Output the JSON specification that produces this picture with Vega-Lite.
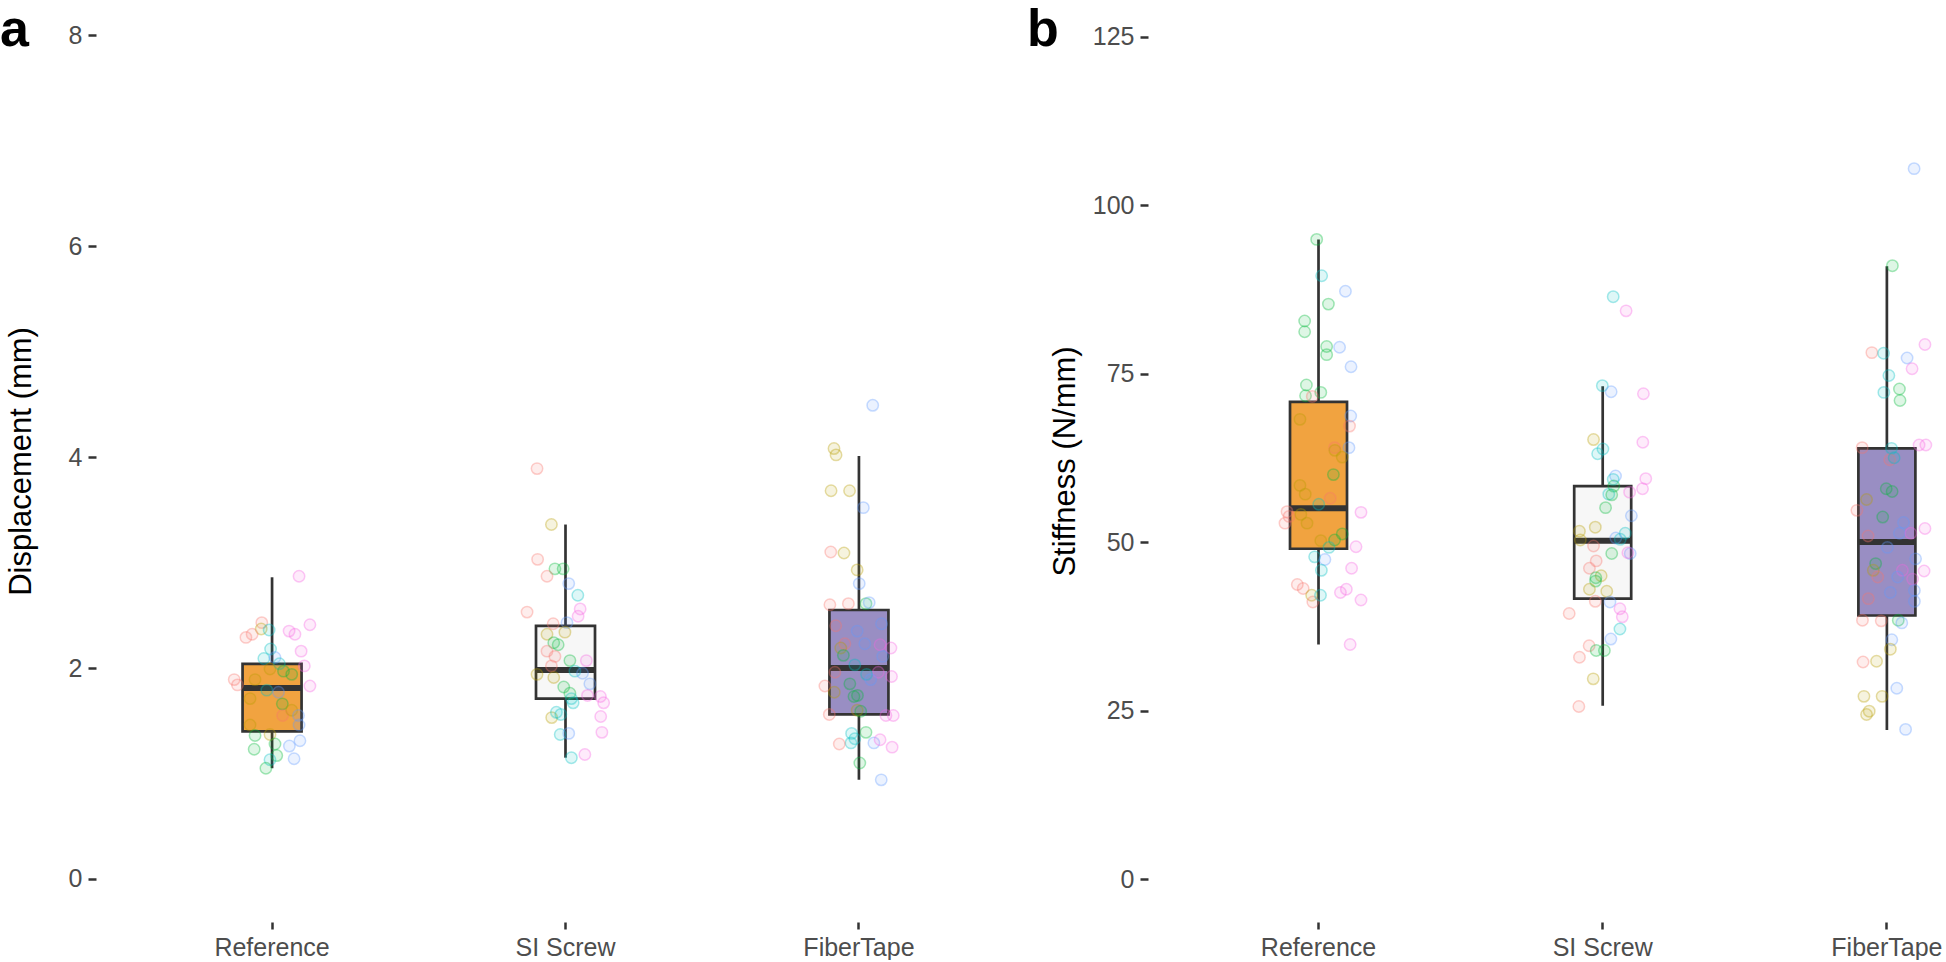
{
  "$schema": "https://vega.github.io/schema/vega-lite/v6.json",
  "autosize": {"type": "pad"},
  "padding": 0,
  "background": "white",
  "spacing": 113,
  "bounds": "flush",
  "config": {
    "view": {"stroke": null},
    "font": "Liberation Sans",
    "axis": {
      "grid": false, "domain": false,
      "tickColor": "#333333", "tickWidth": 2.5,
      "labelColor": "#4D4D4D", "labelFont": "Liberation Sans", "labelFontSize": 25,
      "titleFont": "Liberation Sans", "titleFontSize": 31, "titleColor": "#000000", "titleFontWeight": "normal"
    }
  },
  "datasets": {
    "dispBox": [
      {"group": "Reference", "lower": 1.05, "q1": 1.40, "median": 1.81, "q3": 2.04, "upper": 2.86},
      {"group": "SI Screw", "lower": 1.15, "q1": 1.71, "median": 1.98, "q3": 2.40, "upper": 3.36},
      {"group": "FiberTape", "lower": 0.94, "q1": 1.56, "median": 2.00, "q3": 2.55, "upper": 4.01}
    ],
    "stiffBox": [
      {"group": "Reference", "lower": 34.8, "q1": 49.0, "median": 55.0, "q3": 70.8, "upper": 94.9},
      {"group": "SI Screw", "lower": 25.7, "q1": 41.6, "median": 50.2, "q3": 58.3, "upper": 73.1},
      {"group": "FiberTape", "lower": 22.1, "q1": 39.1, "median": 50.0, "q3": 63.9, "upper": 90.9}
    ],
    "dispPts": [
      {"group":"Reference","specimen":"S6","value":2.87,"jitter":0.092},
      {"group":"Reference","specimen":"S1","value":2.43,"jitter":-0.035},
      {"group":"Reference","specimen":"S2","value":2.37,"jitter":-0.037},
      {"group":"Reference","specimen":"S4","value":2.36,"jitter":-0.01},
      {"group":"Reference","specimen":"S1","value":2.32,"jitter":-0.068},
      {"group":"Reference","specimen":"S1","value":2.29,"jitter":-0.089},
      {"group":"Reference","specimen":"S6","value":2.35,"jitter":0.058},
      {"group":"Reference","specimen":"S6","value":2.32,"jitter":0.078},
      {"group":"Reference","specimen":"S6","value":2.41,"jitter":0.129},
      {"group":"Reference","specimen":"S4","value":2.18,"jitter":-0.005},
      {"group":"Reference","specimen":"S4","value":2.09,"jitter":-0.028},
      {"group":"Reference","specimen":"S5","value":2.10,"jitter":0.01},
      {"group":"Reference","specimen":"S6","value":2.16,"jitter":0.099},
      {"group":"Reference","specimen":"S4","value":2.04,"jitter":0.025},
      {"group":"Reference","specimen":"S2","value":1.99,"jitter":-0.007},
      {"group":"Reference","specimen":"S3","value":1.97,"jitter":0.039},
      {"group":"Reference","specimen":"S3","value":1.94,"jitter":0.067},
      {"group":"Reference","specimen":"S6","value":2.02,"jitter":0.11},
      {"group":"Reference","specimen":"S1","value":1.89,"jitter":-0.129},
      {"group":"Reference","specimen":"S1","value":1.84,"jitter":-0.118},
      {"group":"Reference","specimen":"S2","value":1.89,"jitter":-0.058},
      {"group":"Reference","specimen":"S6","value":1.83,"jitter":0.129},
      {"group":"Reference","specimen":"S4","value":1.79,"jitter":-0.018},
      {"group":"Reference","specimen":"S5","value":1.77,"jitter":0.022},
      {"group":"Reference","specimen":"S2","value":1.71,"jitter":-0.075},
      {"group":"Reference","specimen":"S3","value":1.66,"jitter":0.035},
      {"group":"Reference","specimen":"S1","value":1.55,"jitter":0.036},
      {"group":"Reference","specimen":"S2","value":1.60,"jitter":0.067},
      {"group":"Reference","specimen":"S5","value":1.55,"jitter":0.09},
      {"group":"Reference","specimen":"S5","value":1.46,"jitter":0.092},
      {"group":"Reference","specimen":"S2","value":1.46,"jitter":-0.075},
      {"group":"Reference","specimen":"S3","value":1.36,"jitter":-0.058},
      {"group":"Reference","specimen":"S2","value":1.37,"jitter":-0.007},
      {"group":"Reference","specimen":"S3","value":1.28,"jitter":0.01},
      {"group":"Reference","specimen":"S5","value":1.26,"jitter":0.059},
      {"group":"Reference","specimen":"S5","value":1.31,"jitter":0.095},
      {"group":"Reference","specimen":"S3","value":1.23,"jitter":-0.061},
      {"group":"Reference","specimen":"S3","value":1.17,"jitter":0.016},
      {"group":"Reference","specimen":"S5","value":1.14,"jitter":0.075},
      {"group":"Reference","specimen":"S4","value":1.13,"jitter":-0.007},
      {"group":"Reference","specimen":"S3","value":1.05,"jitter":-0.021},
      {"group":"SI Screw","specimen":"S1","value":3.89,"jitter":-0.097},
      {"group":"SI Screw","specimen":"S2","value":3.36,"jitter":-0.048},
      {"group":"SI Screw","specimen":"S1","value":3.03,"jitter":-0.095},
      {"group":"SI Screw","specimen":"S3","value":2.94,"jitter":-0.036},
      {"group":"SI Screw","specimen":"S3","value":2.94,"jitter":-0.008},
      {"group":"SI Screw","specimen":"S1","value":2.87,"jitter":-0.063},
      {"group":"SI Screw","specimen":"S5","value":2.80,"jitter":0.011},
      {"group":"SI Screw","specimen":"S4","value":2.69,"jitter":0.042},
      {"group":"SI Screw","specimen":"S6","value":2.56,"jitter":0.05},
      {"group":"SI Screw","specimen":"S6","value":2.49,"jitter":0.043},
      {"group":"SI Screw","specimen":"S1","value":2.53,"jitter":-0.131},
      {"group":"SI Screw","specimen":"S1","value":2.42,"jitter":-0.042},
      {"group":"SI Screw","specimen":"S5","value":2.43,"jitter":0.005},
      {"group":"SI Screw","specimen":"S2","value":2.32,"jitter":-0.063},
      {"group":"SI Screw","specimen":"S2","value":2.34,"jitter":-0.002},
      {"group":"SI Screw","specimen":"S3","value":2.24,"jitter":-0.04},
      {"group":"SI Screw","specimen":"S3","value":2.22,"jitter":-0.025},
      {"group":"SI Screw","specimen":"S1","value":2.16,"jitter":-0.063},
      {"group":"SI Screw","specimen":"S1","value":2.11,"jitter":-0.036},
      {"group":"SI Screw","specimen":"S3","value":2.07,"jitter":0.015},
      {"group":"SI Screw","specimen":"S6","value":2.07,"jitter":0.071},
      {"group":"SI Screw","specimen":"S1","value":2.02,"jitter":-0.048},
      {"group":"SI Screw","specimen":"S2","value":1.94,"jitter":-0.097},
      {"group":"SI Screw","specimen":"S4","value":1.97,"jitter":0.032},
      {"group":"SI Screw","specimen":"S5","value":1.95,"jitter":0.058},
      {"group":"SI Screw","specimen":"S2","value":1.91,"jitter":-0.04},
      {"group":"SI Screw","specimen":"S5","value":1.85,"jitter":0.083},
      {"group":"SI Screw","specimen":"S3","value":1.82,"jitter":-0.006},
      {"group":"SI Screw","specimen":"S3","value":1.76,"jitter":0.015},
      {"group":"SI Screw","specimen":"S6","value":1.74,"jitter":0.075},
      {"group":"SI Screw","specimen":"S6","value":1.73,"jitter":0.119},
      {"group":"SI Screw","specimen":"S4","value":1.71,"jitter":0.02},
      {"group":"SI Screw","specimen":"S6","value":1.67,"jitter":0.13},
      {"group":"SI Screw","specimen":"S4","value":1.67,"jitter":0.026},
      {"group":"SI Screw","specimen":"S2","value":1.53,"jitter":-0.047},
      {"group":"SI Screw","specimen":"S4","value":1.58,"jitter":-0.031},
      {"group":"SI Screw","specimen":"S4","value":1.56,"jitter":-0.016},
      {"group":"SI Screw","specimen":"S6","value":1.54,"jitter":0.12},
      {"group":"SI Screw","specimen":"S4","value":1.37,"jitter":-0.018},
      {"group":"SI Screw","specimen":"S5","value":1.38,"jitter":0.011},
      {"group":"SI Screw","specimen":"S6","value":1.39,"jitter":0.124},
      {"group":"SI Screw","specimen":"S4","value":1.15,"jitter":0.02},
      {"group":"SI Screw","specimen":"S6","value":1.18,"jitter":0.066},
      {"group":"FiberTape","specimen":"S5","value":4.49,"jitter":0.047},
      {"group":"FiberTape","specimen":"S2","value":4.08,"jitter":-0.085},
      {"group":"FiberTape","specimen":"S2","value":4.02,"jitter":-0.078},
      {"group":"FiberTape","specimen":"S2","value":3.68,"jitter":-0.095},
      {"group":"FiberTape","specimen":"S2","value":3.68,"jitter":-0.032},
      {"group":"FiberTape","specimen":"S5","value":3.52,"jitter":0.015},
      {"group":"FiberTape","specimen":"S1","value":3.10,"jitter":-0.096},
      {"group":"FiberTape","specimen":"S2","value":3.09,"jitter":-0.051},
      {"group":"FiberTape","specimen":"S2","value":2.93,"jitter":-0.006},
      {"group":"FiberTape","specimen":"S5","value":2.80,"jitter":0.001},
      {"group":"FiberTape","specimen":"S1","value":2.60,"jitter":-0.099},
      {"group":"FiberTape","specimen":"S1","value":2.61,"jitter":-0.036},
      {"group":"FiberTape","specimen":"S3","value":2.61,"jitter":0.024},
      {"group":"FiberTape","specimen":"S5","value":2.62,"jitter":0.035},
      {"group":"FiberTape","specimen":"S1","value":2.40,"jitter":-0.079},
      {"group":"FiberTape","specimen":"S5","value":2.42,"jitter":0.077},
      {"group":"FiberTape","specimen":"S5","value":2.35,"jitter":-0.006},
      {"group":"FiberTape","specimen":"S1","value":2.23,"jitter":-0.048},
      {"group":"FiberTape","specimen":"S5","value":2.23,"jitter":0.02},
      {"group":"FiberTape","specimen":"S6","value":2.22,"jitter":0.072},
      {"group":"FiberTape","specimen":"S6","value":2.19,"jitter":0.109},
      {"group":"FiberTape","specimen":"S2","value":2.19,"jitter":-0.062},
      {"group":"FiberTape","specimen":"S3","value":2.12,"jitter":-0.053},
      {"group":"FiberTape","specimen":"S4","value":2.03,"jitter":-0.014},
      {"group":"FiberTape","specimen":"S5","value":2.11,"jitter":0.081},
      {"group":"FiberTape","specimen":"S1","value":1.96,"jitter":-0.082},
      {"group":"FiberTape","specimen":"S6","value":1.96,"jitter":0.066},
      {"group":"FiberTape","specimen":"S4","value":1.94,"jitter":0.026},
      {"group":"FiberTape","specimen":"S6","value":1.92,"jitter":0.111},
      {"group":"FiberTape","specimen":"S5","value":1.89,"jitter":0.04},
      {"group":"FiberTape","specimen":"S3","value":1.85,"jitter":-0.031},
      {"group":"FiberTape","specimen":"S1","value":1.83,"jitter":-0.116},
      {"group":"FiberTape","specimen":"S2","value":1.77,"jitter":-0.084},
      {"group":"FiberTape","specimen":"S3","value":1.73,"jitter":-0.017},
      {"group":"FiberTape","specimen":"S3","value":1.74,"jitter":-0.005},
      {"group":"FiberTape","specimen":"S2","value":1.60,"jitter":-0.006},
      {"group":"FiberTape","specimen":"S3","value":1.59,"jitter":0.006},
      {"group":"FiberTape","specimen":"S1","value":1.56,"jitter":-0.101},
      {"group":"FiberTape","specimen":"S6","value":1.55,"jitter":0.092},
      {"group":"FiberTape","specimen":"S6","value":1.55,"jitter":0.117},
      {"group":"FiberTape","specimen":"S4","value":1.38,"jitter":-0.025},
      {"group":"FiberTape","specimen":"S3","value":1.39,"jitter":0.024},
      {"group":"FiberTape","specimen":"S4","value":1.33,"jitter":-0.014},
      {"group":"FiberTape","specimen":"S4","value":1.29,"jitter":-0.027},
      {"group":"FiberTape","specimen":"S1","value":1.28,"jitter":-0.067},
      {"group":"FiberTape","specimen":"S5","value":1.29,"jitter":0.051},
      {"group":"FiberTape","specimen":"S6","value":1.32,"jitter":0.072},
      {"group":"FiberTape","specimen":"S6","value":1.25,"jitter":0.113},
      {"group":"FiberTape","specimen":"S3","value":1.10,"jitter":0.003},
      {"group":"FiberTape","specimen":"S5","value":0.94,"jitter":0.076}
    ],
    "stiffPts": [
      {"group":"Reference","specimen":"S3","value":94.9,"jitter":-0.022},
      {"group":"Reference","specimen":"S4","value":89.5,"jitter":-0.005},
      {"group":"Reference","specimen":"S5","value":87.2,"jitter":0.076},
      {"group":"Reference","specimen":"S3","value":85.3,"jitter":0.018},
      {"group":"Reference","specimen":"S3","value":82.8,"jitter":-0.063},
      {"group":"Reference","specimen":"S3","value":81.2,"jitter":-0.063},
      {"group":"Reference","specimen":"S3","value":79.0,"jitter":0.012},
      {"group":"Reference","specimen":"S3","value":77.8,"jitter":0.012},
      {"group":"Reference","specimen":"S5","value":78.9,"jitter":0.056},
      {"group":"Reference","specimen":"S5","value":76.0,"jitter":0.095},
      {"group":"Reference","specimen":"S3","value":73.3,"jitter":-0.057},
      {"group":"Reference","specimen":"S3","value":71.7,"jitter":-0.06},
      {"group":"Reference","specimen":"S3","value":72.2,"jitter":-0.008},
      {"group":"Reference","specimen":"S1","value":71.6,"jitter":-0.037},
      {"group":"Reference","specimen":"S2","value":68.2,"jitter":-0.079},
      {"group":"Reference","specimen":"S5","value":68.7,"jitter":0.094},
      {"group":"Reference","specimen":"S1","value":67.2,"jitter":0.09},
      {"group":"Reference","specimen":"S1","value":64.0,"jitter":0.039},
      {"group":"Reference","specimen":"S2","value":63.6,"jitter":0.04},
      {"group":"Reference","specimen":"S5","value":64.0,"jitter":0.088},
      {"group":"Reference","specimen":"S2","value":62.6,"jitter":0.065},
      {"group":"Reference","specimen":"S3","value":60.0,"jitter":0.035},
      {"group":"Reference","specimen":"S2","value":58.4,"jitter":-0.079},
      {"group":"Reference","specimen":"S2","value":57.1,"jitter":-0.061},
      {"group":"Reference","specimen":"S1","value":56.5,"jitter":0.024},
      {"group":"Reference","specimen":"S4","value":55.6,"jitter":-0.015},
      {"group":"Reference","specimen":"S1","value":54.5,"jitter":-0.123},
      {"group":"Reference","specimen":"S1","value":53.8,"jitter":-0.116},
      {"group":"Reference","specimen":"S1","value":52.8,"jitter":-0.13},
      {"group":"Reference","specimen":"S2","value":54.1,"jitter":-0.076},
      {"group":"Reference","specimen":"S2","value":52.8,"jitter":-0.055},
      {"group":"Reference","specimen":"S6","value":54.4,"jitter":0.129},
      {"group":"Reference","specimen":"S3","value":51.2,"jitter":0.065},
      {"group":"Reference","specimen":"S3","value":50.3,"jitter":0.039},
      {"group":"Reference","specimen":"S2","value":50.2,"jitter":-0.008},
      {"group":"Reference","specimen":"S4","value":49.2,"jitter":0.02},
      {"group":"Reference","specimen":"S6","value":49.3,"jitter":0.112},
      {"group":"Reference","specimen":"S4","value":47.8,"jitter":-0.029},
      {"group":"Reference","specimen":"S5","value":47.4,"jitter":0.006},
      {"group":"Reference","specimen":"S4","value":45.8,"jitter":-0.006},
      {"group":"Reference","specimen":"S6","value":46.1,"jitter":0.097},
      {"group":"Reference","specimen":"S1","value":43.7,"jitter":-0.088},
      {"group":"Reference","specimen":"S1","value":43.1,"jitter":-0.068},
      {"group":"Reference","specimen":"S2","value":42.1,"jitter":-0.039},
      {"group":"Reference","specimen":"S1","value":41.1,"jitter":-0.035},
      {"group":"Reference","specimen":"S4","value":42.1,"jitter":-0.009},
      {"group":"Reference","specimen":"S6","value":42.5,"jitter":0.059},
      {"group":"Reference","specimen":"S6","value":43.0,"jitter":0.079},
      {"group":"Reference","specimen":"S6","value":41.4,"jitter":0.129},
      {"group":"Reference","specimen":"S6","value":34.8,"jitter":0.092},
      {"group":"SI Screw","specimen":"S4","value":86.4,"jitter":0.02},
      {"group":"SI Screw","specimen":"S6","value":84.3,"jitter":0.064},
      {"group":"SI Screw","specimen":"S4","value":73.2,"jitter":-0.017},
      {"group":"SI Screw","specimen":"S5","value":72.3,"jitter":0.013},
      {"group":"SI Screw","specimen":"S6","value":72.0,"jitter":0.123},
      {"group":"SI Screw","specimen":"S2","value":65.2,"jitter":-0.047},
      {"group":"SI Screw","specimen":"S4","value":63.8,"jitter":-0.015},
      {"group":"SI Screw","specimen":"S4","value":63.1,"jitter":-0.033},
      {"group":"SI Screw","specimen":"S6","value":64.8,"jitter":0.121},
      {"group":"SI Screw","specimen":"S5","value":59.8,"jitter":0.028},
      {"group":"SI Screw","specimen":"S4","value":59.3,"jitter":0.02},
      {"group":"SI Screw","specimen":"S3","value":58.3,"jitter":0.022},
      {"group":"SI Screw","specimen":"S6","value":59.4,"jitter":0.131},
      {"group":"SI Screw","specimen":"S6","value":57.9,"jitter":0.12},
      {"group":"SI Screw","specimen":"S6","value":57.4,"jitter":0.076},
      {"group":"SI Screw","specimen":"S4","value":57.1,"jitter":0.005},
      {"group":"SI Screw","specimen":"S3","value":57.0,"jitter":0.015},
      {"group":"SI Screw","specimen":"S3","value":55.1,"jitter":-0.006},
      {"group":"SI Screw","specimen":"S5","value":53.9,"jitter":0.082},
      {"group":"SI Screw","specimen":"S2","value":52.2,"jitter":-0.041},
      {"group":"SI Screw","specimen":"S2","value":51.6,"jitter":-0.095},
      {"group":"SI Screw","specimen":"S2","value":50.3,"jitter":-0.092},
      {"group":"SI Screw","specimen":"S4","value":51.3,"jitter":0.061},
      {"group":"SI Screw","specimen":"S5","value":50.6,"jitter":0.029},
      {"group":"SI Screw","specimen":"S4","value":50.4,"jitter":0.044},
      {"group":"SI Screw","specimen":"S1","value":49.4,"jitter":-0.047},
      {"group":"SI Screw","specimen":"S3","value":48.3,"jitter":0.015},
      {"group":"SI Screw","specimen":"S5","value":48.3,"jitter":0.078},
      {"group":"SI Screw","specimen":"S6","value":48.4,"jitter":0.07},
      {"group":"SI Screw","specimen":"S1","value":47.2,"jitter":-0.038},
      {"group":"SI Screw","specimen":"S1","value":46.1,"jitter":-0.061},
      {"group":"SI Screw","specimen":"S2","value":45.0,"jitter":-0.021},
      {"group":"SI Screw","specimen":"S3","value":44.7,"jitter":-0.039},
      {"group":"SI Screw","specimen":"S3","value":44.2,"jitter":-0.04},
      {"group":"SI Screw","specimen":"S2","value":43.0,"jitter":-0.061},
      {"group":"SI Screw","specimen":"S2","value":42.7,"jitter":-0.002},
      {"group":"SI Screw","specimen":"S1","value":41.2,"jitter":-0.041},
      {"group":"SI Screw","specimen":"S5","value":41.1,"jitter":0.009},
      {"group":"SI Screw","specimen":"S1","value":39.4,"jitter":-0.13},
      {"group":"SI Screw","specimen":"S6","value":40.1,"jitter":0.043},
      {"group":"SI Screw","specimen":"S6","value":38.9,"jitter":0.051},
      {"group":"SI Screw","specimen":"S4","value":37.1,"jitter":0.043},
      {"group":"SI Screw","specimen":"S5","value":35.6,"jitter":0.012},
      {"group":"SI Screw","specimen":"S1","value":34.6,"jitter":-0.062},
      {"group":"SI Screw","specimen":"S1","value":32.9,"jitter":-0.095},
      {"group":"SI Screw","specimen":"S3","value":33.9,"jitter":-0.038},
      {"group":"SI Screw","specimen":"S3","value":33.9,"jitter":-0.01},
      {"group":"SI Screw","specimen":"S2","value":29.7,"jitter":-0.048},
      {"group":"SI Screw","specimen":"S1","value":25.6,"jitter":-0.097},
      {"group":"FiberTape","specimen":"S5","value":105.4,"jitter":0.077},
      {"group":"FiberTape","specimen":"S3","value":91.0,"jitter":0.003},
      {"group":"FiberTape","specimen":"S6","value":79.3,"jitter":0.114},
      {"group":"FiberTape","specimen":"S1","value":78.1,"jitter":-0.067},
      {"group":"FiberTape","specimen":"S4","value":78.0,"jitter":-0.027},
      {"group":"FiberTape","specimen":"S5","value":77.3,"jitter":0.053},
      {"group":"FiberTape","specimen":"S6","value":75.7,"jitter":0.07},
      {"group":"FiberTape","specimen":"S4","value":74.7,"jitter":-0.009},
      {"group":"FiberTape","specimen":"S4","value":72.2,"jitter":-0.026},
      {"group":"FiberTape","specimen":"S3","value":72.7,"jitter":0.027},
      {"group":"FiberTape","specimen":"S3","value":71.0,"jitter":0.029},
      {"group":"FiberTape","specimen":"S1","value":64.0,"jitter":-0.1},
      {"group":"FiberTape","specimen":"S6","value":64.4,"jitter":0.094},
      {"group":"FiberTape","specimen":"S6","value":64.4,"jitter":0.117},
      {"group":"FiberTape","specimen":"S4","value":63.9,"jitter":0.0},
      {"group":"FiberTape","specimen":"S1","value":62.2,"jitter":-0.006},
      {"group":"FiberTape","specimen":"S4","value":62.5,"jitter":0.009},
      {"group":"FiberTape","specimen":"S3","value":57.9,"jitter":-0.018},
      {"group":"FiberTape","specimen":"S3","value":57.5,"jitter":0.002},
      {"group":"FiberTape","specimen":"S2","value":56.3,"jitter":-0.085},
      {"group":"FiberTape","specimen":"S1","value":54.7,"jitter":-0.118},
      {"group":"FiberTape","specimen":"S3","value":53.7,"jitter":-0.03},
      {"group":"FiberTape","specimen":"S5","value":52.9,"jitter":0.041},
      {"group":"FiberTape","specimen":"S5","value":51.3,"jitter":0.027},
      {"group":"FiberTape","specimen":"S6","value":51.3,"jitter":0.066},
      {"group":"FiberTape","specimen":"S6","value":52.0,"jitter":0.114},
      {"group":"FiberTape","specimen":"S1","value":50.9,"jitter":-0.08},
      {"group":"FiberTape","specimen":"S5","value":49.2,"jitter":-0.014},
      {"group":"FiberTape","specimen":"S5","value":47.5,"jitter":0.082},
      {"group":"FiberTape","specimen":"S3","value":46.8,"jitter":-0.054},
      {"group":"FiberTape","specimen":"S2","value":45.8,"jitter":-0.062},
      {"group":"FiberTape","specimen":"S1","value":44.8,"jitter":-0.047},
      {"group":"FiberTape","specimen":"S6","value":45.8,"jitter":0.037},
      {"group":"FiberTape","specimen":"S6","value":45.7,"jitter":0.111},
      {"group":"FiberTape","specimen":"S5","value":44.8,"jitter":0.021},
      {"group":"FiberTape","specimen":"S6","value":44.5,"jitter":0.072},
      {"group":"FiberTape","specimen":"S5","value":42.8,"jitter":0.078},
      {"group":"FiberTape","specimen":"S5","value":42.5,"jitter":-0.004},
      {"group":"FiberTape","specimen":"S1","value":41.6,"jitter":-0.079},
      {"group":"FiberTape","specimen":"S5","value":41.2,"jitter":0.078},
      {"group":"FiberTape","specimen":"S1","value":38.4,"jitter":-0.099},
      {"group":"FiberTape","specimen":"S1","value":38.3,"jitter":-0.035},
      {"group":"FiberTape","specimen":"S3","value":38.4,"jitter":0.023},
      {"group":"FiberTape","specimen":"S5","value":38.0,"jitter":0.035},
      {"group":"FiberTape","specimen":"S5","value":35.5,"jitter":0.001},
      {"group":"FiberTape","specimen":"S2","value":34.1,"jitter":-0.004},
      {"group":"FiberTape","specimen":"S1","value":32.2,"jitter":-0.097},
      {"group":"FiberTape","specimen":"S2","value":32.3,"jitter":-0.051},
      {"group":"FiberTape","specimen":"S5","value":28.3,"jitter":0.018},
      {"group":"FiberTape","specimen":"S2","value":27.1,"jitter":-0.094},
      {"group":"FiberTape","specimen":"S2","value":27.1,"jitter":-0.032},
      {"group":"FiberTape","specimen":"S2","value":24.9,"jitter":-0.076},
      {"group":"FiberTape","specimen":"S2","value":24.4,"jitter":-0.085},
      {"group":"FiberTape","specimen":"S5","value":22.2,"jitter":0.048}
    ]
  },
  "hconcat": [
    {
      "width": 939,
      "height": 922,
      "title": {"text": "a", "anchor": "start", "frame": "group", "fontSize": 52, "fontWeight": "bold", "font": "Liberation Sans", "color": "#000000", "dx": -96, "offset": -57, "baseline": "top"},
      "layer": [
        {
          "data": {"name": "dispBox"},
          "mark": {"type": "rule", "color": "#333333", "strokeWidth": 2.7},
          "encoding": {
            "x": {"field": "group", "type": "nominal", "sort": ["Reference", "SI Screw", "FiberTape"],
                  "scale": {"type": "band", "domain": ["Reference", "SI Screw", "FiberTape"], "paddingInner": 0, "paddingOuter": 0.1},
                  "axis": {"title": null, "labelAngle": 0, "tickSize": 7, "labelPadding": 6}},
            "y": {"field": "lower", "type": "quantitative",
                  "scale": {"domain": [-0.4076, 8.332], "nice": false, "zero": false},
                  "axis": {"title": "Displacement (mm)", "values": [0, 2, 4, 6, 8], "format": "d", "tickSize": 8, "labelPadding": 6, "titlePadding": 31}},
            "y2": {"field": "upper"}
          }
        },
        {
          "data": {"name": "dispBox"},
          "mark": {"type": "bar", "width": 59, "stroke": "#333333", "strokeWidth": 2.7},
          "encoding": {
            "x": {"field": "group", "type": "nominal"},
            "y": {"field": "q1", "type": "quantitative"},
            "y2": {"field": "q3"},
            "fill": {"field": "group", "type": "nominal", "scale": {"domain": ["Reference", "SI Screw", "FiberTape"], "range": ["#f1a340", "#f7f7f7", "#998ec3"]}, "legend": null}
          }
        },
        {
          "data": {"name": "dispBox"},
          "mark": {"type": "tick", "orient": "horizontal", "size": 59, "thickness": 6, "color": "#333333", "opacity": 1},
          "encoding": {
            "x": {"field": "group", "type": "nominal"},
            "y": {"field": "median", "type": "quantitative"}
          }
        },
        {
          "data": {"name": "dispPts"},
          "mark": {"type": "point", "shape": "circle", "filled": true, "size": 130, "fillOpacity": 0.13, "strokeOpacity": 0.35, "strokeWidth": 1.5},
          "encoding": {
            "x": {"field": "group", "type": "nominal"},
            "xOffset": {"field": "jitter", "type": "quantitative", "scale": {"domain": [-0.5, 0.5]}},
            "y": {"field": "value", "type": "quantitative"},
            "color": {"field": "specimen", "type": "nominal", "scale": {"domain": ["S1","S2","S3","S4","S5","S6"], "range": ["#F8766D","#B79F00","#00BA38","#00BFC4","#619CFF","#F564E3"]}, "legend": null},
            "stroke": {"field": "specimen", "type": "nominal", "scale": {"domain": ["S1","S2","S3","S4","S5","S6"], "range": ["#F8766D","#B79F00","#00BA38","#00BFC4","#619CFF","#F564E3"]}, "legend": null}
          }
        }
      ]
    },
    {
      "width": 798,
      "height": 922,
      "title": {"text": "b", "anchor": "start", "frame": "group", "fontSize": 52, "fontWeight": "bold", "font": "Liberation Sans", "color": "#000000", "dx": -121, "offset": -57, "baseline": "top"},
      "layer": [
        {
          "data": {"name": "stiffBox"},
          "mark": {"type": "rule", "color": "#333333", "strokeWidth": 2.7},
          "encoding": {
            "x": {"field": "group", "type": "nominal", "sort": ["Reference", "SI Screw", "FiberTape"],
                  "scale": {"type": "band", "domain": ["Reference", "SI Screw", "FiberTape"], "range": [0, 909.4], "paddingInner": 0, "paddingOuter": 0.1},
                  "axis": {"title": null, "labelAngle": 0, "tickSize": 7, "labelPadding": 6}},
            "y": {"field": "lower", "type": "quantitative",
                  "scale": {"domain": [-6.38, 130.42], "nice": false, "zero": false},
                  "axis": {"title": "Stiffness (N/mm)", "values": [0, 25, 50, 75, 100, 125], "format": "d", "tickSize": 8, "labelPadding": 6, "titlePadding": 11}},
            "y2": {"field": "upper"}
          }
        },
        {
          "data": {"name": "stiffBox"},
          "mark": {"type": "bar", "width": 57, "stroke": "#333333", "strokeWidth": 2.7},
          "encoding": {
            "x": {"field": "group", "type": "nominal"},
            "y": {"field": "q1", "type": "quantitative"},
            "y2": {"field": "q3"},
            "fill": {"field": "group", "type": "nominal", "scale": {"domain": ["Reference", "SI Screw", "FiberTape"], "range": ["#f1a340", "#f7f7f7", "#998ec3"]}, "legend": null}
          }
        },
        {
          "data": {"name": "stiffBox"},
          "mark": {"type": "tick", "orient": "horizontal", "size": 57, "thickness": 6, "color": "#333333", "opacity": 1},
          "encoding": {
            "x": {"field": "group", "type": "nominal"},
            "y": {"field": "median", "type": "quantitative"}
          }
        },
        {
          "data": {"name": "stiffPts"},
          "mark": {"type": "point", "shape": "circle", "filled": true, "size": 130, "fillOpacity": 0.13, "strokeOpacity": 0.35, "strokeWidth": 1.5},
          "encoding": {
            "x": {"field": "group", "type": "nominal"},
            "xOffset": {"field": "jitter", "type": "quantitative", "scale": {"domain": [-0.5, 0.5]}},
            "y": {"field": "value", "type": "quantitative"},
            "color": {"field": "specimen", "type": "nominal", "scale": {"domain": ["S1","S2","S3","S4","S5","S6"], "range": ["#F8766D","#B79F00","#00BA38","#00BFC4","#619CFF","#F564E3"]}, "legend": null},
            "stroke": {"field": "specimen", "type": "nominal", "scale": {"domain": ["S1","S2","S3","S4","S5","S6"], "range": ["#F8766D","#B79F00","#00BA38","#00BFC4","#619CFF","#F564E3"]}, "legend": null}
          }
        }
      ]
    }
  ]
}
